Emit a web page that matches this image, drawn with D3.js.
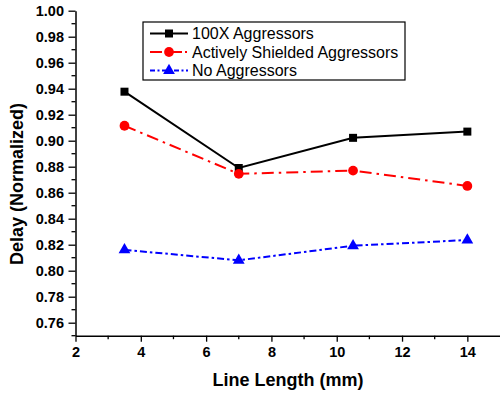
<!DOCTYPE html>
<html>
<head>
<meta charset="utf-8">
<script src="https://cdn.jsdelivr.net/npm/d3@7"></script>
<style>
body{margin:0;background:#fff;}
svg{display:block;}
text{font-family:"Liberation Sans",Arial,sans-serif;}
</style>
</head>
<body>
<svg id="chart" width="500" height="393"></svg>
<script>
const lineLength = [3.5, 7, 10.5, 14];
const aggressors100X = [0.9377, 0.879, 0.9022, 0.907];
const shielded = [0.9115, 0.8745, 0.877, 0.8652];
const noAggressors = [0.816, 0.808, 0.8192, 0.8236];
const xTicks = [2, 4, 6, 8, 10, 12, 14];
const yTicks = [0.76, 0.78, 0.80, 0.82, 0.84, 0.86, 0.88, 0.90, 0.92, 0.94, 0.96, 0.98, 1.00];
const seriesNames = ["100X Aggressors", "Actively Shielded Aggressors", "No Aggressors"];

const svg = d3.select("#chart");
const mLeft = 75.5, mRight = 500, mTop = 10.7, mBottom = 335.7;
const x = d3.scaleLinear().domain([2, 15]).range([mLeft, mRight]);
const y = d3.scaleLinear().domain([0.75, 1.00]).range([mBottom, mTop]);

// minor ticks
const xMinor = d3.range(3, 15, 2);
const yMinor = d3.range(0, 13).map(i => 0.75 + i * 0.02);
svg.append("g").selectAll("line").data(xMinor).join("line")
  .attr("x1", d => x(d)).attr("x2", d => x(d))
  .attr("y1", mBottom).attr("y2", mBottom + 3.5)
  .attr("stroke", "#000").attr("stroke-width", 1.3);
svg.append("g").selectAll("line").data(yMinor).join("line")
  .attr("y1", d => y(d)).attr("y2", d => y(d))
  .attr("x1", mLeft).attr("x2", mLeft - 4)
  .attr("stroke", "#000").attr("stroke-width", 1.3);

const xAxis = svg.append("g").attr("transform", `translate(0,${mBottom})`)
  .call(d3.axisBottom(x).tickValues(xTicks).tickSize(6).tickPadding(5).tickSizeOuter(0).tickFormat(d3.format("d")));
const yAxis = svg.append("g").attr("transform", `translate(${mLeft},0)`)
  .call(d3.axisLeft(y).tickValues(yTicks).tickSize(7).tickPadding(4.5).tickSizeOuter(0).tickFormat(d3.format(".2f")));
[xAxis, yAxis].forEach(g => {
  g.select(".domain").attr("stroke", "#000").attr("stroke-width", 1.5);
  g.selectAll(".tick line").attr("stroke", "#000").attr("stroke-width", 1.3);
  g.selectAll(".tick text").attr("fill", "#000")
    .style("font-family", "'Liberation Sans', Arial, sans-serif")
    .style("font-size", "14.5px").style("font-weight", "bold");
});

svg.append("text").attr("x", 288).attr("y", 386)
  .attr("text-anchor", "middle").style("font-size", "18px").style("font-weight", "bold")
  .text("Line Length (mm)");
svg.append("text").attr("transform", "translate(23,184) rotate(-90)")
  .attr("text-anchor", "middle").style("font-size", "18px").style("font-weight", "bold")
  .text("Delay (Normalized)");

const series = [
  {name: seriesNames[0], values: aggressors100X, color: "#000000", dash: null, marker: "square"},
  {name: seriesNames[1], values: shielded, color: "#ff0000", dash: "12,5,2.5,5", marker: "circle"},
  {name: seriesNames[2], values: noAggressors, color: "#0000ff", dash: "7,3,2.5,3", marker: "triangle"}
];

const line = d3.line().x(d => x(d[0])).y(d => y(d[1]));
const symbolFor = m => m === "square" ? d3.symbol().type(d3.symbolSquare).size(64)
  : m === "circle" ? d3.symbol().type(d3.symbolCircle).size(75)
  : d3.symbol().type(d3.symbolTriangle).size(60);

series.forEach(s => {
  const pts = lineLength.map((l, i) => [l, s.values[i]]);
  svg.append("path").datum(pts).attr("d", line)
    .attr("fill", "none").attr("stroke", s.color).attr("stroke-width", 2)
    .attr("stroke-dasharray", s.dash);
  svg.append("g").selectAll("path").data(pts).join("path")
    .attr("transform", d => `translate(${x(d[0])},${y(d[1])})`)
    .attr("d", symbolFor(s.marker)()).attr("fill", s.color);
});

// legend
const lg = svg.append("g");
lg.append("rect").attr("x", 143).attr("y", 22).attr("width", 262).attr("height", 58)
  .attr("fill", "#fff").attr("stroke", "#000").attr("stroke-width", 1.2);
series.forEach((s, i) => {
  const cy = 33.5 + i * 18.5;
  lg.append("line").attr("x1", 150).attr("x2", 188).attr("y1", cy).attr("y2", cy)
    .attr("stroke", s.color).attr("stroke-width", 2).attr("stroke-dasharray", s.dash ? (i === 1 ? "12,3,2,3" : "5,2.5,2,2.5") : null);
  lg.append("path").attr("transform", `translate(169,${cy})`)
    .attr("d", symbolFor(s.marker)()).attr("fill", s.color);
  lg.append("text").attr("x", 192).attr("y", cy + 5.5)
    .style("font-size", "16px").attr("fill", "#000").text(s.name);
});
</script>
</body>
</html>
